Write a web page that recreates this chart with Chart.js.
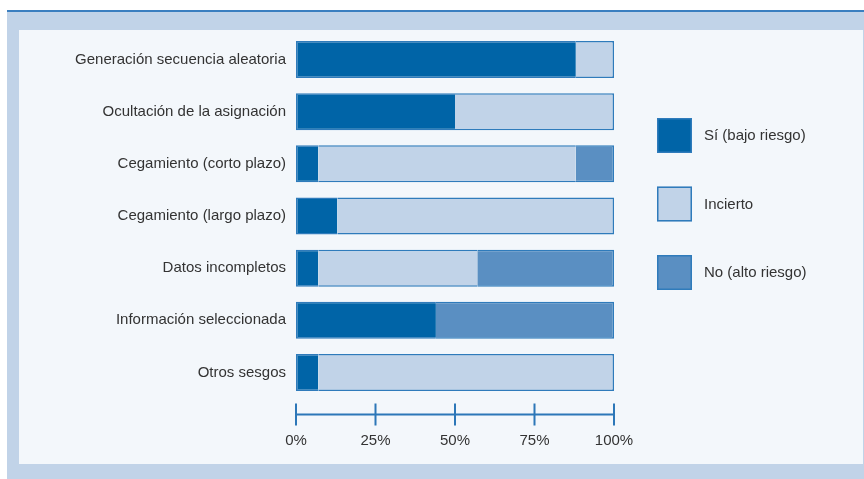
<!DOCTYPE html>
<html>
<head>
<meta charset="utf-8">
<script src="https://cdn.jsdelivr.net/npm/chart.js@4/dist/chart.umd.min.js"></script>
<style>
    html, body { margin: 0; padding: 0; background: #ffffff; }
    body { width: 864px; height: 479px; position: relative; overflow: hidden; }
    .frame {
        position: absolute; left: 7px; top: 10px; width: 857px; height: 469px;
        background: #c1d3e8; border-top: 2px solid #3b7fc0; box-sizing: border-box;
    }
    .panel {
        position: absolute; left: 19px; top: 30px; width: 844px; height: 434px;
        background: #f3f7fb;
    }
    canvas { display: block; }
</style>
</head>
<body>
<div class="frame"></div>
<div class="panel"><canvas id="riskChart" width="844" height="434"></canvas></div>
<script>
    const categories = [
        'Generación secuencia aleatoria',
        'Ocultación de la asignación',
        'Cegamiento (corto plazo)',
        'Cegamiento (largo plazo)',
        'Datos incompletos',
        'Información seleccionada',
        'Otros sesgos'
    ];
    const seriesNames = ['Sí (bajo riesgo)', 'Incierto', 'No (alto riesgo)'];
    const lowRisk = [88, 50, 7, 13, 7, 44, 7];
    const unclear = [12, 50, 81, 87, 50, 0, 93];
    const highRisk = [0, 0, 12, 0, 43, 56, 0];
    const tickValues = [0, 25, 50, 75, 100];

    const colors = ['#0064a7', '#c1d3e8', '#5a8fc2'];
    const edgeColor = '#2f7bbb';
    const textColor = '#333333';
    const fontFamily = '"Liberation Sans", Arial, sans-serif';
    const fontSize = 15;

    const allSeries = [lowRisk, unclear, highRisk];

    // Outline the whole stacked bar: only the outer segments get side borders
    function segmentBorder(ctx) {
        const ds = ctx.datasetIndex, i = ctx.dataIndex;
        const v = allSeries[ds][i];
        if (!v) return 0;
        const before = allSeries.slice(0, ds).some(s => s[i] > 0);
        const after = allSeries.slice(ds + 1).some(s => s[i] > 0);
        return { top: 1.5, bottom: 1.5, left: before ? 0 : 1.5, right: after ? 0 : 1.5 };
    }

    // Axis line with ticks crossing it, set below the bars
    const axisPlugin = {
        id: 'axisLine',
        afterDraw(chart) {
            const x = chart.scales.x;
            const c = chart.ctx;
            const y = chart.chartArea.bottom + 16;
            c.save();
            c.strokeStyle = '#2c77b8';
            c.lineWidth = 2;
            c.beginPath();
            c.moveTo(x.getPixelForValue(tickValues[0]), y);
            c.lineTo(x.getPixelForValue(tickValues[tickValues.length - 1]), y);
            tickValues.forEach(t => {
                const px = x.getPixelForValue(t);
                c.moveTo(px, y - 11);
                c.lineTo(px, y + 11);
            });
            c.stroke();
            c.restore();
        }
    };

    // Legend as a vertical column of square swatches
    const legendPlugin = {
        id: 'sideLegend',
        afterDraw(chart) {
            const c = chart.ctx;
            const left = chart.chartArea.right + 43;
            const top = 88;
            const step = 68.5;
            c.save();
            c.font = fontSize + 'px ' + fontFamily;
            c.textBaseline = 'middle';
            chart.data.datasets.forEach((ds, k) => {
                const y = top + k * step;
                c.fillStyle = ds.backgroundColor;
                c.fillRect(left, y, 35, 35);
                c.strokeStyle = edgeColor;
                c.lineWidth = 1.5;
                c.strokeRect(left + 0.75, y + 0.75, 33.5, 33.5);
                c.fillStyle = textColor;
                c.fillText(ds.label, left + 47, y + 18);
            });
            c.restore();
        }
    };

    const ctx = document.getElementById('riskChart').getContext('2d');
    new Chart(ctx, {
        type: 'bar',
        data: {
            labels: categories,
            datasets: allSeries.map((data, k) => ({
                label: seriesNames[k],
                data: data,
                backgroundColor: colors[k],
                borderColor: edgeColor,
                borderWidth: segmentBorder,
                borderSkipped: false,
                categoryPercentage: 1,
                barPercentage: 0.71
            }))
        },
        options: {
            indexAxis: 'y',
            responsive: false,
            animation: false,
            layout: { padding: { top: 3.4, right: 249, bottom: 0, left: 0 } },
            plugins: {
                legend: { display: false },
                tooltip: { enabled: false }
            },
            scales: {
                x: {
                    stacked: true,
                    min: 0,
                    max: 100,
                    afterBuildTicks: s => { s.ticks = tickValues.map(v => ({ value: v })); },
                    afterFit: s => { s.height = 65.4; s.paddingLeft = 0; s.paddingRight = 0; },
                    grid: { display: false, drawTicks: false },
                    border: { display: false },
                    ticks: {
                        padding: 33,
                        color: textColor,
                        font: { family: fontFamily, size: fontSize },
                        callback: v => v + '%'
                    }
                },
                y: {
                    stacked: true,
                    afterFit: s => { s.width = 277; s.paddingTop = 0; s.paddingBottom = 0; },
                    grid: { display: false, drawTicks: false },
                    border: { display: false },
                    ticks: {
                        padding: 10,
                        color: textColor,
                        font: { family: fontFamily, size: fontSize }
                    }
                }
            }
        },
        plugins: [axisPlugin, legendPlugin]
    });
</script>
</body>
</html>
